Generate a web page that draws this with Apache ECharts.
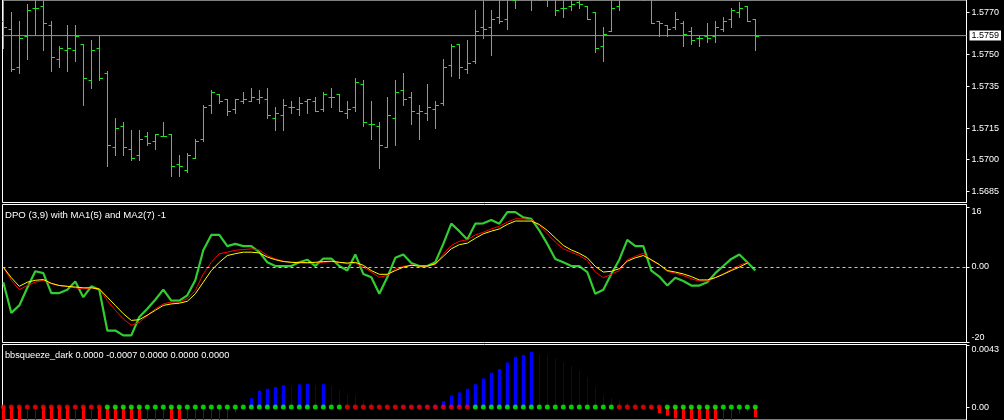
<!DOCTYPE html>
<html><head><meta charset="utf-8">
<script src="https://cdn.jsdelivr.net/npm/echarts@6/dist/echarts.min.js"></script>
<style>html,body{margin:0;padding:0;background:#000;}#c{width:1004px;height:420px;}</style>
</head><body><div id="c"></div>
<script>
// ---------- DATA ----------
const openP  = [1.5766,1.5762,1.5744,1.5759,1.5772,1.5773,1.5764,1.5748,1.5752,1.5752,1.5755,1.5738,1.5753,1.5741,1.5706,1.5716,1.5705,1.5702,1.5711,1.5709,1.5711,1.5712,1.5698,1.5695,1.5701,1.5710,1.5726,1.5731,1.5729,1.5724,1.5728,1.5728,1.5729,1.5729,1.5720,1.5721,1.5725,1.5724,1.5728,1.5728,1.5724,1.5730,1.5731,1.5722,1.5725,1.5736,1.5717,1.5716,1.5706,1.5720,1.5733,1.5730,1.5722,1.5722,1.5724,1.5727,1.5745,1.5755,1.5743,1.5747,1.5763,1.5763,1.5768,1.5767,1.5776,1.5781,1.5785,1.5779,1.5782,1.5778,1.5772,1.5773,1.5775,1.5773,1.5770,1.5754,1.5761,1.5773,1.5780,1.5785,1.5783,1.5777,1.5766,1.5764,1.5763,1.5765,1.5761,1.5758,1.5759,1.5759,1.5762,1.5767,1.5770,1.5773,1.5767];
const highP  = [1.5776,1.5770,1.5766,1.5774,1.5777,1.5778,1.5766,1.5754,1.5764,1.5764,1.5755,1.5757,1.5759,1.5742,1.5720,1.5718,1.5714,1.5714,1.5713,1.5712,1.5718,1.5712,1.5702,1.5703,1.5710,1.5726,1.5733,1.5731,1.5729,1.5729,1.5732,1.5734,1.5733,1.5734,1.5725,1.5729,1.5728,1.5730,1.5729,1.5730,1.5732,1.5734,1.5731,1.5728,1.5739,1.5738,1.5728,1.5718,1.5730,1.5738,1.5741,1.5732,1.5726,1.5736,1.5728,1.5748,1.5755,1.5755,1.5757,1.5771,1.5777,1.5771,1.5778,1.5780,1.5784,1.5790,1.5788,1.5786,1.5785,1.5780,1.5778,1.5777,1.5777,1.5773,1.5770,1.5763,1.5779,1.5783,1.5788,1.5790,1.5787,1.5781,1.5766,1.5764,1.5770,1.5766,1.5763,1.5759,1.5765,1.5766,1.5768,1.5772,1.5775,1.5773,1.5767];
const lowP   = [1.5753,1.5742,1.5741,1.5748,1.5760,1.5752,1.5742,1.5744,1.5742,1.5747,1.5726,1.5734,1.5738,1.5697,1.5702,1.5702,1.5700,1.5700,1.5707,1.5705,1.5711,1.5692,1.5692,1.5694,1.5701,1.5709,1.5722,1.5727,1.5721,1.5722,1.5727,1.5728,1.5727,1.5720,1.5714,1.5714,1.5722,1.5721,1.5722,1.5723,1.5723,1.5725,1.5723,1.5720,1.5723,1.5716,1.5710,1.5696,1.5706,1.5707,1.5726,1.5717,1.5710,1.5719,1.5715,1.5726,1.5740,1.5739,1.5741,1.5746,1.5758,1.5750,1.5765,1.5762,1.5772,1.5777,1.5771,1.5776,1.5773,1.5769,1.5768,1.5771,1.5772,1.5767,1.5751,1.5747,1.5761,1.5771,1.5777,1.5779,1.5776,1.5765,1.5759,1.5759,1.5762,1.5754,1.5755,1.5754,1.5756,1.5756,1.5761,1.5763,1.5768,1.5766,1.5752];
const closeP = [1.5763,1.5743,1.5758,1.5771,1.5772,1.5765,1.5749,1.5753,1.5753,1.5759,1.5739,1.5752,1.5739,1.5707,1.5715,1.5706,1.5701,1.5710,1.5708,1.5712,1.5711,1.5697,1.5697,1.5702,1.5709,1.5725,1.5732,1.5728,1.5723,1.5729,1.5729,1.5730,1.5730,1.5721,1.5722,1.5726,1.5725,1.5727,1.5729,1.5723,1.5731,1.5730,1.5723,1.5724,1.5737,1.5718,1.5717,1.5707,1.5721,1.5732,1.5729,1.5723,1.5723,1.5725,1.5726,1.5744,1.5754,1.5744,1.5746,1.5761,1.5762,1.5767,1.5766,1.5777,1.5781,1.5786,1.5779,1.5783,1.5777,1.5771,1.5772,1.5774,1.5774,1.5767,1.5753,1.5760,1.5772,1.5779,1.5785,1.5782,1.5778,1.5765,1.5765,1.5762,1.5767,1.5760,1.5757,1.5758,1.5758,1.5763,1.5766,1.5771,1.5772,1.5766,1.5759];
const priceTicks = [1.5770, 1.5750, 1.5735, 1.5715, 1.5700, 1.5685];

const dpo = [-4.1,-12.3,-10.3,-5.6,-1.2,-1.7,-7.0,-7.0,-6.1,-3.9,-8.1,-5.2,-6.1,-17.0,-17.0,-18.3,-18.3,-13.4,-11.2,-8.8,-6.1,-9.0,-9.0,-7.6,-3.6,4.4,8.5,8.5,5.5,6.1,5.5,5.5,3.9,1.2,0.2,0.2,0.2,1.2,1.9,0.2,2.2,2.2,0.2,-1.0,3.3,-1.9,-2.8,-7.2,-2.8,2.4,
  3.3,1.0,0.2,0.2,1.2,6.1,11.5,9.5,7.3,11.5,11.6,12.5,11.5,14.6,14.6,13.2,12.8,9.7,6.1,2.1,1.2,0.2,0.2,-1.4,-7.2,-6.1,-1.9,1.9,7.2,5.5,5.5,-1.0,-2.6,-5.0,-2.9,-3.8,-5.0,-5.0,-4.1,-1.7,0.2,2.1,3.3,1.2,-1.0];
const ma1 = [-0.1,-3.6,-6.1,-5.0,-4.1,-3.6,-4.5,-5.0,-5.2,-5.6,-5.9,-5.6,-5.9,-9.0,-11.6,-13.9,-15.6,-14.8,-13.0,-11.2,-9.9,-9.4,-9.4,-8.5,-6.3,-1.9,1.2,3.5,3.9,4.4,4.6,4.8,4.5,3.0,2.1,1.5,1.2,1.2,1.0,1.0,1.2,1.4,1.2,0.8,1.0,-0.1,-1.4,-2.8,-2.3,-0.5,
  0.1,0.5,0.2,0.2,0.6,3.4,5.7,6.8,7.2,8.5,9.2,10.1,10.8,11.9,12.8,12.8,12.5,11.0,8.8,6.6,4.8,3.9,3.0,1.7,-1.4,-2.9,-2.0,-1.0,1.9,2.8,3.6,1.7,0.6,-1.2,-1.7,-2.3,-3.2,-3.8,-3.8,-2.9,-1.9,-0.7,0.4,1.2,null];
const ma2 = [-0.1,-2.9,-5.2,-4.1,-3.6,-3.4,-4.4,-5.0,-5.2,-5.4,-5.6,-5.6,-5.9,-8.1,-10.3,-12.5,-14.3,-14.1,-12.9,-11.6,-10.3,-9.9,-9.7,-9.2,-7.2,-4.1,-1.0,1.2,3.0,3.5,3.9,3.9,3.7,2.6,1.9,1.4,1.2,1.1,1.1,1.2,1.4,1.5,1.2,1.0,1.2,0.4,-1.0,-2.0,-2.0,-1.0,
  -0.1,0.4,0.2,0.2,0.8,2.8,4.8,5.9,6.3,7.6,8.8,9.5,10.1,11.3,12.2,12.2,12.2,11.3,9.7,7.7,5.7,4.5,3.6,2.4,0.1,-1.4,-1.2,-0.5,1.5,2.4,3.0,1.9,0.6,-1.0,-1.4,-1.9,-2.6,-3.5,-3.5,-2.9,-2.0,-1.0,-0.1,1.0,null];
const dpoTicks = [-20, 0, 16];

const momentum = [-0.0015,-0.0018,-0.0021,-0.0019,-0.0017,-0.0020,-0.0023,-0.0025,-0.0027,-0.0024,-0.0026,-0.0024,-0.0027,-0.0030,-0.0033,-0.0036,-0.0038,-0.0040,-0.0037,-0.0034,-0.0031,-0.0033,-0.0035,-0.0030,-0.0025,-0.0020,-0.0015,-0.0011,-0.0008,-0.0004,-0.0001,
  0.00061,0.00114,0.00127,0.00140,0.00153,0.00147,0.00158,0.00161,0.00153,0.00160,0.00147,0.00120,0.00088,0.00081,0.00048,0.00030,
  0.00012,0.00006,0.00003,0.00005,0.00010,0.00012,0.00014,0.00016,
  0.00041,0.00081,0.00101,0.00127,0.00160,0.00200,0.00239,0.00265,0.00311,0.00351,0.00364,0.00384,
  0.00364,0.00358,0.00338,0.00311,0.00285,0.00252,0.00206,0.00134,0.00081,0.00061,0.00045,0.00034,0.00027,0.00012,-0.0001,
  -0.00042,-0.0006,-0.0008,-0.0010,-0.0012,-0.0013,-0.0014,-0.0015,-0.0013,-0.0009,-0.00046,-0.0003,-0.0007];
// 1 = squeeze on (red dot), 0 = off (green dot)
const squeeze = [1,1,1,1,1,1,1,1,1,1,1,1,1,0,0,0,0,0,0,0,0,0,0,0,0,0,0,0,0,0,0,0,0,0,0,0,0,0,0,0,0,0,0,1,1,1,1,1,1,1,1,1,1,1,1,1,1,1,1,0,0,0,0,0,0,0,0,0,0,0,0,0,0,0,0,0,0,1,1,1,1,1,1,0,0,0,0,0,0,0,0,0,0,0,0];
const bbsTicks = [0, 0.0043];
const dpoTitle = 'DPO (3,9) with MA1(5) and MA2(7) -1';
const bbsTitle = 'bbsqueeze_dark 0.0000 -0.0007 0.0000 0.0000 0.0000';

// ---------- CHART ----------
const FONT = "'Liberation Sans', Arial, sans-serif";
const chart = echarts.init(document.getElementById('c'), null, {renderer: 'canvas'});
const n = closeP.length;
const lastPrice = closeP[n - 1];
const ohlc = closeP.map((c, k) => [k, openP[k], highP[k], lowP[k], c]);
const xRange = {min: -0.1, max: 120.4};
const gridL = 2.5, gridW = 964;

function yAx(gi, min, max, ticks, fmt, minVA, maxVA) {
  return {
    type: 'value', gridIndex: gi, position: 'right', min: min, max: max, scale: true,
    splitLine: {show: false},
    axisLine: {show: true, onZero: false, lineStyle: {color: '#fff', width: 1}},
    axisTick: {show: true, length: 3, inside: false, customValues: ticks, lineStyle: {color: '#fff'}},
    axisLabel: {show: true, customValues: ticks, color: '#fff', fontSize: 9, fontFamily: FONT, margin: 5,
      formatter: fmt, verticalAlignMinLabel: minVA, verticalAlignMaxLabel: maxVA}
  };
}

const green = '#22e622';
const option = {
  backgroundColor: '#000',
  animation: false,
  title: [
    {text: dpoTitle, left: 5, top: 209, padding: 0, textStyle: {color: '#fff', fontSize: 9.6, fontWeight: 'normal', fontFamily: FONT, lineHeight: 12}},
    {text: bbsTitle, left: 5, top: 349, padding: 0, textStyle: {color: '#fff', fontSize: 9.2, fontWeight: 'normal', fontFamily: FONT, lineHeight: 12}}
  ],
  grid: [
    {left: gridL, width: gridW, top: -1.5, height: 204, show: true, borderColor: '#fff', borderWidth: 1, backgroundColor: '#000'},
    {left: gridL, width: gridW, top: 204.5, height: 138, show: true, borderColor: '#fff', borderWidth: 1, backgroundColor: '#000'},
    {left: gridL, width: gridW, top: 344.5, height: 80, show: true, borderColor: '#fff', borderWidth: 1, backgroundColor: '#000'}
  ],
  xAxis: [0, 1, 2].map(i => ({type: 'value', gridIndex: i, min: xRange.min, max: xRange.max, show: false})),
  yAxis: [
    yAx(0, 1.56796, 1.577594, priceTicks, v => v.toFixed(4), 'middle', 'middle'),
    yAx(1, -20.187, 16.613, dpoTicks, v => (v === 0 ? '0.00' : String(v)), 'bottom', 'top'),
    yAx(2, -0.000902, 0.004366, bbsTicks, v => (v === 0 ? '0.00' : v.toFixed(4)), 'middle', 'top')
  ],
  series: [
    {
      // bid line across the price pane with its price box
      type: 'line', xAxisIndex: 0, yAxisIndex: 0, symbol: 'none', silent: true, z: 2, clip: false,
      data: [[xRange.min, lastPrice], [xRange.max, lastPrice]],
      lineStyle: {color: '#8a96a8', width: 1},
      endLabel: {show: true, distance: 3, formatter: () => lastPrice.toFixed(4),
        backgroundColor: '#fff', color: '#000', padding: [1, 2, 0, 2], fontSize: 9, fontFamily: FONT}
    },
    {
      type: 'custom', xAxisIndex: 0, yAxisIndex: 0, clip: true, z: 3,
      data: ohlc, encode: {x: 0, y: [1, 2, 3, 4]},
      renderItem: function (params, api) {
        const k = api.value(0);
        const pO = api.coord([k, api.value(1)]);
        const pH = api.coord([k, api.value(2)]);
        const pL = api.coord([k, api.value(3)]);
        const pC = api.coord([k, api.value(4)]);
        const x = Math.floor(pO[0]) + 0.5;
        const r = y => Math.round(y) + 0.5;
        const st = {stroke: green, lineWidth: 1};
        return {type: 'group', children: [
          {type: 'line', shape: {x1: x, y1: Math.round(pH[1]), x2: x, y2: Math.round(pL[1]) + 1}, style: st},
          {type: 'line', shape: {x1: x - 3, y1: r(pO[1]), x2: x, y2: r(pO[1])}, style: st},
          {type: 'line', shape: {x1: x, y1: r(pC[1]), x2: x + 3.5, y2: r(pC[1])}, style: st}
        ]};
      }
    },
    {
      type: 'line', xAxisIndex: 1, yAxisIndex: 1, symbol: 'none', z: 2,
      data: dpo.map((v, k) => [k, v]),
      lineStyle: {color: '#32cd32', width: 2.2},
      markLine: {
        silent: true, symbol: ['none', 'none'], animation: false,
        lineStyle: {color: '#c8c8c8', type: [3, 3], width: 1},
        label: {show: false}, data: [{yAxis: 0}]
      }
    },
    {type: 'line', xAxisIndex: 1, yAxisIndex: 1, symbol: 'none', z: 3,
      data: ma1.map((v, k) => [k, v]), lineStyle: {color: '#ff0000', width: 1}},
    {type: 'line', xAxisIndex: 1, yAxisIndex: 1, symbol: 'none', z: 4,
      data: ma2.map((v, k) => [k, v]), lineStyle: {color: '#ffff00', width: 1}},
    {
      type: 'custom', xAxisIndex: 2, yAxisIndex: 2, clip: true, z: 2,
      data: momentum.map((v, k) => [k, v]), encode: {x: 0, y: 1},
      renderItem: function (params, api) {
        const i = params.dataIndex;
        const k = api.value(0), v = api.value(1);
        const prev = i > 0 ? momentum[i - 1] : (v >= 0 ? -1 : 1);
        let color, w;
        if (v >= 0) { if (v > prev) { color = '#0000ff'; w = 3; } else { color = '#000090'; w = 1; } }
        else { if (v < prev) { color = '#ff0000'; w = 3; } else { color = '#800000'; w = 1; } }
        const p0 = api.coord([k, 0]);
        const p1 = api.coord([k, v]);
        const xc = Math.floor(p0[0]);
        const x0 = w === 3 ? xc - 1 : xc;
        const yTop = Math.min(p0[1], p1[1]);
        return {type: 'rect', shape: {x: x0, y: yTop, width: w, height: Math.abs(p1[1] - p0[1])}, style: {fill: color}};
      }
    },
    {
      type: 'scatter', xAxisIndex: 2, yAxisIndex: 2, symbol: 'circle', symbolSize: 5, z: 5,
      data: squeeze.map((s, k) => ({value: [k, 0], itemStyle: {color: s ? '#ff0000' : '#00ff00'}}))
    }
  ]
};
chart.setOption(option);
</script></body></html>
